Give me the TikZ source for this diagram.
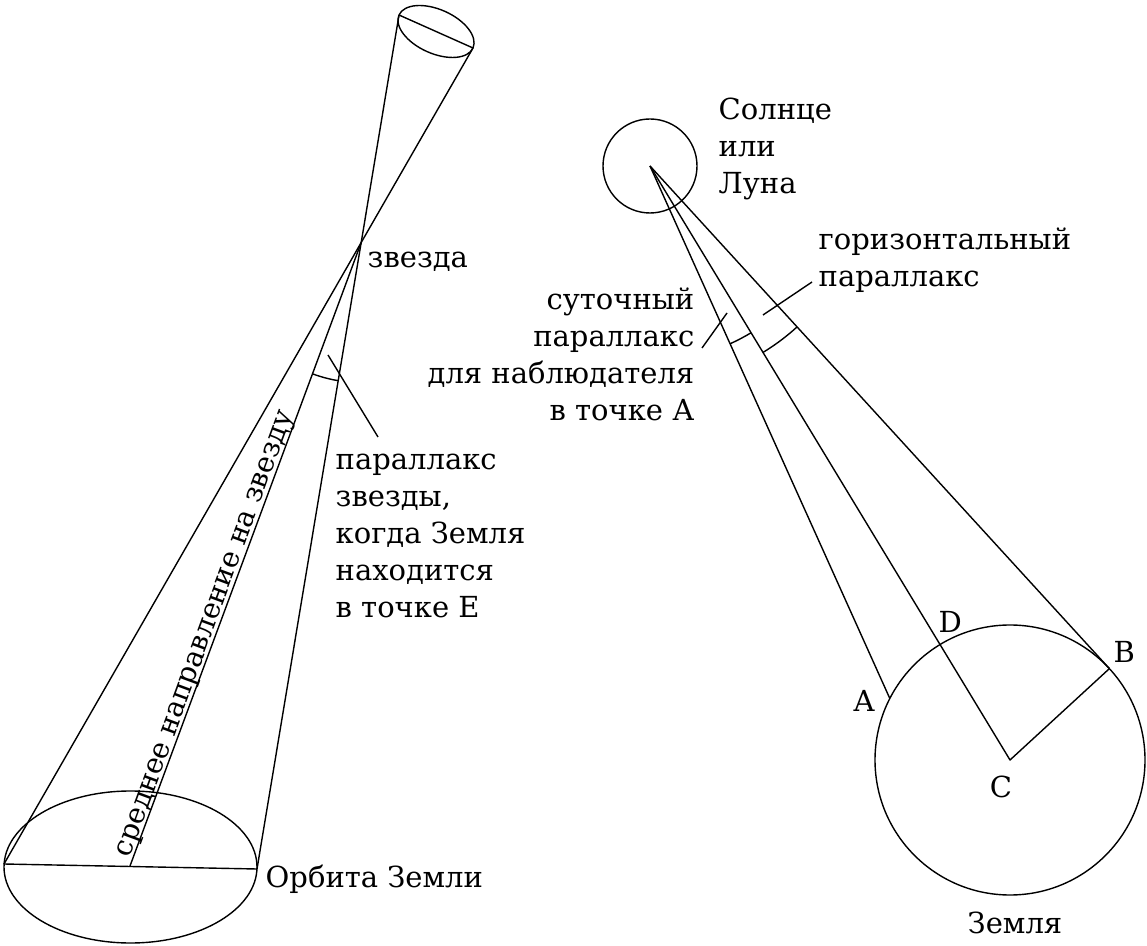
\documentclass[tikz,border=0pt]{standalone}
\usepackage{fontspec}
\setmainfont{DejaVu Serif}
\usetikzlibrary{calc}
\begin{document}
\begin{tikzpicture}[x=1pt,y=1pt, line width=1.4pt, line join=round,
  lbl/.style={font=\fontsize{29}{37}\selectfont, inner sep=0pt}]
\useasboundingbox (0,0) rectangle (1147,945);
% ---------- left figure: stellar parallax ----------
\coordinate (L) at (4,81);
\coordinate (R) at (257,76);
\coordinate (M) at (130,79);
\coordinate (TL) at (399,930);
\coordinate (TR) at (473,897);
\draw (130.5,78) ellipse [x radius=126.5, y radius=76];
\draw (L) -- (R);
\draw[rotate around={-24:(436,913.5)}] (436,913.5) ellipse [x radius=40.5, y radius=22];
\draw (TL) -- (TR);
\coordinate (star) at (intersection of TL--R and TR--L);
\draw (TL) -- (R);
\draw (TR) -- (L);
\draw (M) -- (star);
\draw let \p1=($(M)-(star)$), \p2=($(R)-(star)$),
      \n1={atan2(\y1,\x1)}, \n2={atan2(\y2,\x2)} in
      ($(star)+(\n1:140)$) arc[start angle=\n1, end angle=\n2, radius=140];
\coordinate (pl1) at (328,590);
\coordinate (pl2) at (378,508);
\draw (pl1) -- (pl2);
\node[lbl, anchor=base west] (zv) at (367,677) {звезда};
\node[lbl, anchor=base west, align=left] (plx) at (335,327)
  {параллакс\\звезды,\\когда Земля\\находится\\в точке Е};
\node[lbl, anchor=base west] (orb) at (265,58) {Орбита Земли};
\node[lbl, font=\fontsize{28.2}{34}\selectfont, anchor=base, rotate=69.8] (mid) at (211.4,309) {среднее направление на звезду};
% ---------- right figure: diurnal parallax ----------
\coordinate (S) at (650,779);
\draw (S) circle[radius=47];
\coordinate (C) at (1010,185);
\draw (C) circle[radius=135];
\coordinate (A) at ($(C)+(152.9:135)$);
\coordinate (B) at ($(C)+(42.6:135)$);
\draw (S) -- (A);
\draw (S) -- (C) -- (B);
\draw (S) -- (B);
\draw let \p1=($(A)-(S)$), \p2=($(C)-(S)$),
      \n1={atan2(\y1,\x1)}, \n2={atan2(\y2,\x2)} in
      ($(S)+(\n1:195)$) arc[start angle=\n1, end angle=\n2, radius=195];
\draw let \p1=($(C)-(S)$), \p2=($(B)-(S)$),
      \n1={atan2(\y1,\x1)}, \n2={atan2(\y2,\x2)} in
      ($(S)+(\n1:218)$) arc[start angle=\n1, end angle=\n2, radius=218];
\coordinate (sl1) at (702,597);
\coordinate (sl2) at (727,632);
\draw (sl1) -- (sl2);
\coordinate (gl1) at (763,630);
\coordinate (gl2) at (812,663);
\draw (gl1) -- (gl2);
\node[lbl, anchor=base west, align=left] (sun) at (718,751) {Солнце\\или\\Луна};
\node[lbl, anchor=base west, align=left] (gor) at (818,658) {горизонтальный\\параллакс};
\node[lbl, anchor=base east, align=right] (sut) at (695,524)
  {суточный\\параллакс\\для наблюдателя\\в точке А};
\node[lbl, anchor=base west] (la) at (853,234) {A};
\node[lbl, anchor=base west] (ld) at (938,312) {D};
\node[lbl, anchor=base west] (lb) at (1113,282) {B};
\node[lbl, anchor=base] (lc) at (1001,148) {C};
\node[lbl, anchor=base west] (earth) at (967,12) {Земля};
\end{tikzpicture}
\end{document}
